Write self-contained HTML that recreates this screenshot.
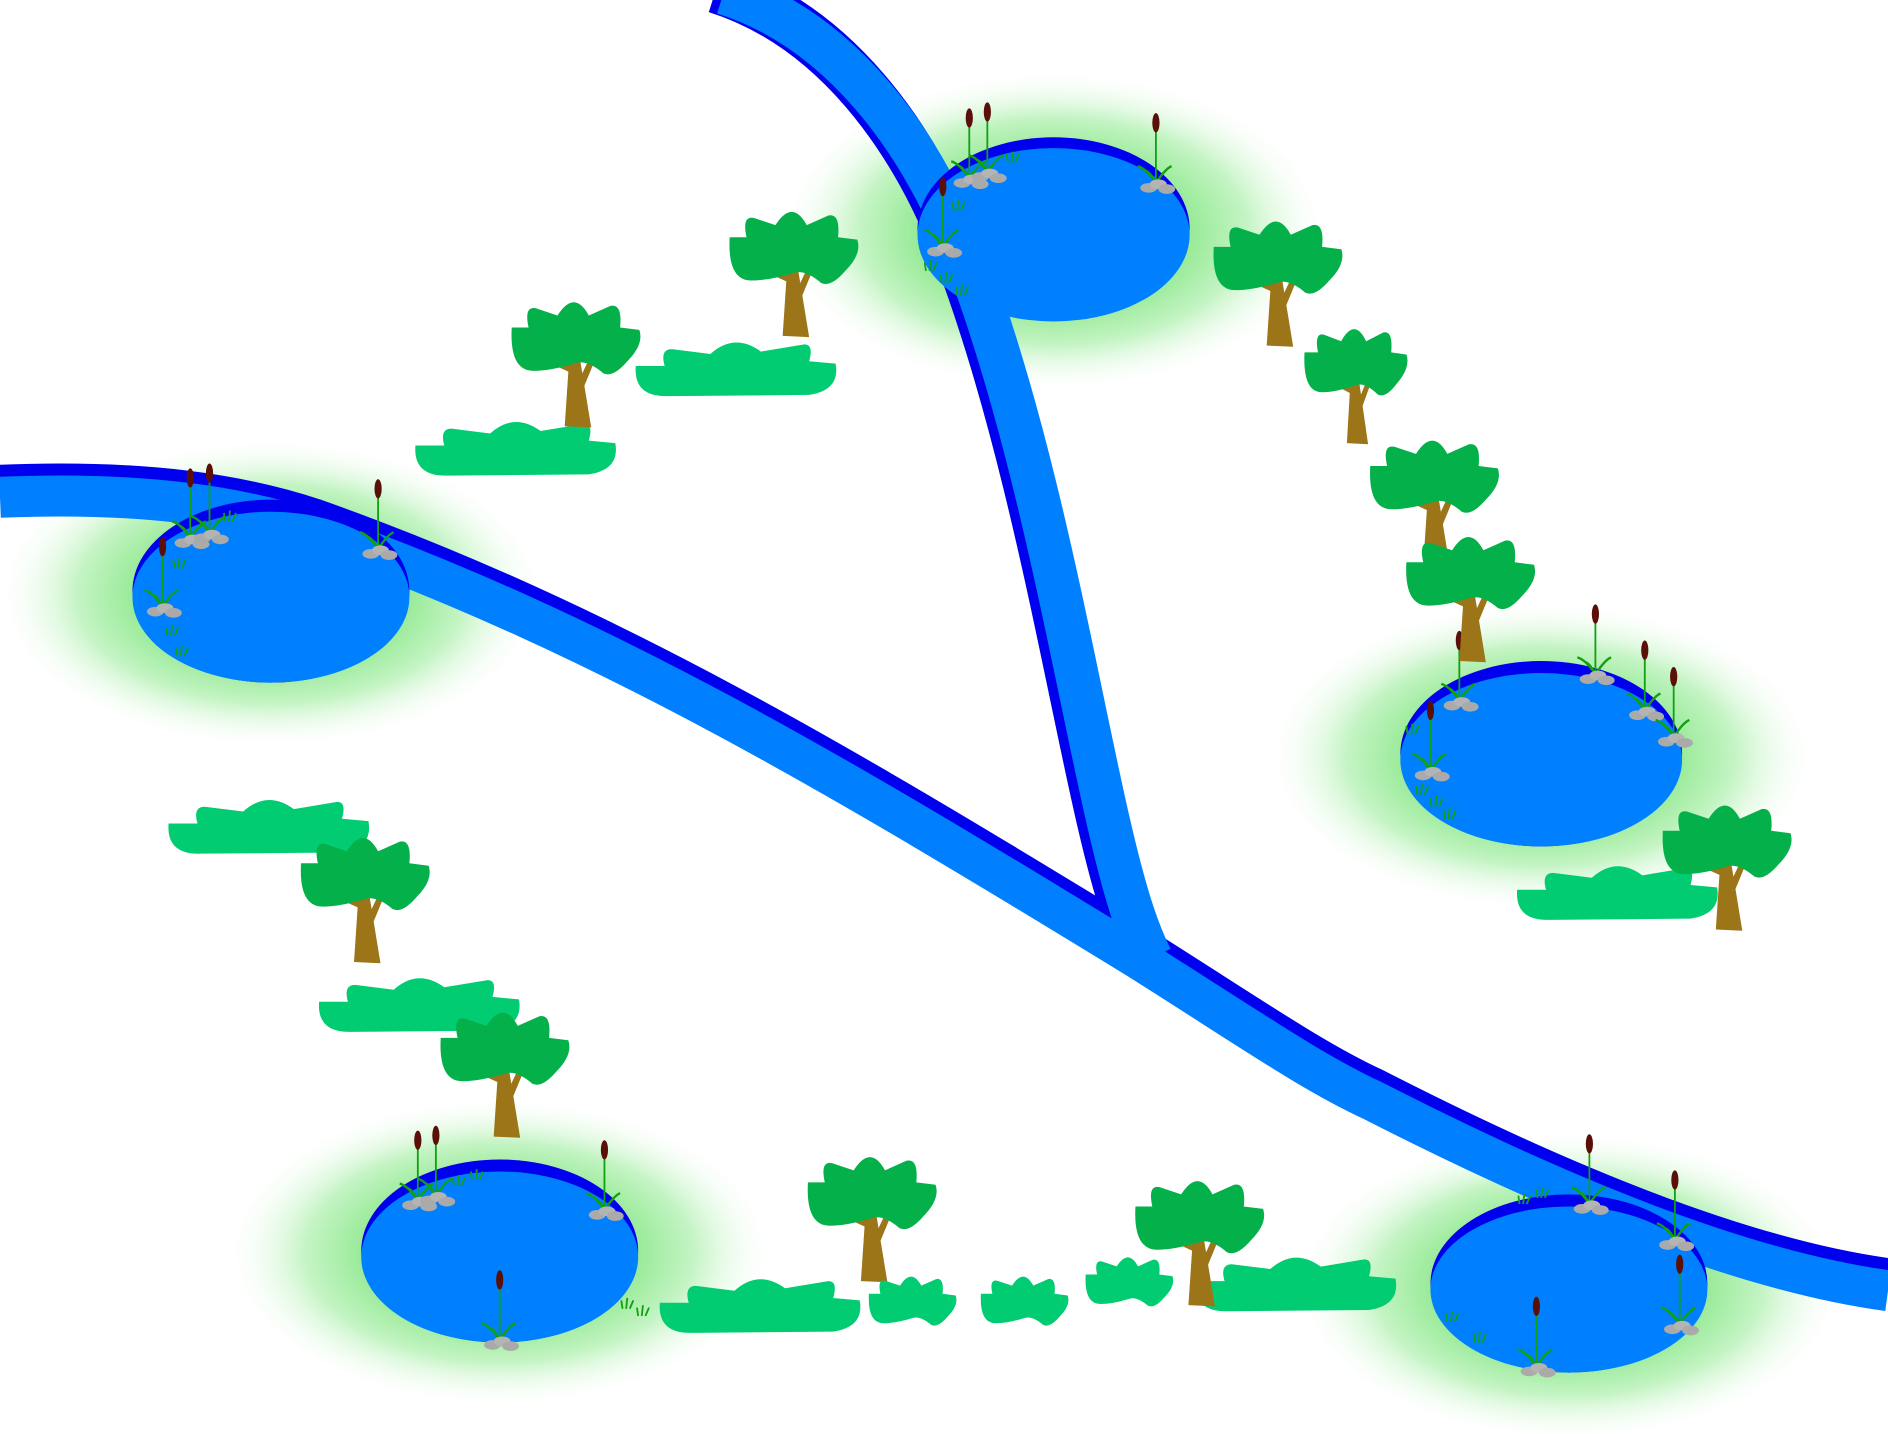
<!DOCTYPE html>
<html><head><meta charset="utf-8"><style>html,body{margin:0;padding:0;background:#fff;overflow:hidden}svg{display:block}</style></head>
<body>
<svg width="1888" height="1434" viewBox="0 0 1568 1191" preserveAspectRatio="none" xmlns="http://www.w3.org/2000/svg">
<defs>
<radialGradient id="g"><stop offset="0.45" stop-color="#8fe88f"/><stop offset="0.7" stop-color="#c4f4c4"/><stop offset="1" stop-color="#fff" stop-opacity="0"/></radialGradient>
<g id="crown"><path d="M-52,-8 L-38,-8 Q-42,-26 -32,-24 L-14,-18 Q0,-40 12,-18 L30,-26 Q40,-28 38,-8 L54,-6 Q58,6 44,20 Q32,34 24,30 Q10,18 0,22 Q-20,28 -34,28 Q-54,28 -52,-8 Z"/></g>
<g id="tree"><polygon points="-4,14 4,14 14,75 -8,74" fill="#9b7518"/><polygon points="2,40 16,10 20,12 6,46" fill="#9b7518"/><polygon points="-2,30 -24,20 -22,16 0,24" fill="#9b7518"/><use href="#crown" fill="#04b04a"/></g>
<g id="bush"><path d="M-82,2 L-58,2 Q-62,-12 -52,-12 L-20,-8 Q0,-26 22,-10 L58,-16 Q66,-16 62,-2 L84,0 Q88,22 62,26 L-55,27 Q-84,28 -82,2 Z" fill="#02cc72"/></g>
<g id="sb"><use href="#crown" fill="#02cc72" transform="scale(0.68)"/></g>
<g id="ct"><line x1="0" y1="0" x2="0" y2="-50" stroke="#10a010" stroke-width="1.5"/><ellipse cx="0" cy="-50" rx="3" ry="8" fill="#5a1008"/><path d="M0,0 Q-8,-12 -15,-14 M0,0 Q8,-12 13,-14 M0,0 Q-4,-8 -8,-10" stroke="#10a010" stroke-width="2" fill="none"/><ellipse cx="-6" cy="4" rx="7" ry="4" fill="#aaa"/><ellipse cx="2" cy="1" rx="7" ry="4" fill="#b4b4b4"/><ellipse cx="9" cy="5" rx="7" ry="4" fill="#aaa"/></g>
<g id="gr"><path d="M-3,0 L-4,-7 M0,0 L1,-9 M3,0 L6,-7" stroke="#10a010" stroke-width="1.5"/></g>
</defs>
<ellipse cx="875" cy="192" rx="230" ry="135" fill="url(#g)"/>
<ellipse cx="225" cy="493" rx="230" ry="130" fill="url(#g)"/>
<ellipse cx="1280" cy="628" rx="230" ry="130" fill="url(#g)"/>
<ellipse cx="415" cy="1040" rx="230" ry="130" fill="url(#g)"/>
<ellipse cx="1303" cy="1068" rx="230" ry="130" fill="url(#g)"/>
<g fill="none">
<path d="M595,-10 C690,20 760,110 800,220 C870,410 900,650 935,755 C940,770 945,782 950,792" stroke="#0000ee" stroke-width="42"/>
<path d="M0,407 C120,402 200,415 260,435 C500,520 700,640 945,790 C1040,850 1090,885 1140,908 C1300,990 1450,1050 1568,1066" stroke="#0000ee" stroke-width="42"/>
<path d="M601,-6 C696,24 766,114 806,224 C876,414 906,654 941,759 C946,774 951,786 956,796" stroke="#0080ff" stroke-width="36"/>
<path d="M0,413 C120,408 200,421 260,441 C500,526 700,646 945,796 C1040,856 1090,891 1140,914 C1300,996 1450,1056 1568,1072" stroke="#0080ff" stroke-width="34"/>
</g>
<g>
<ellipse cx="875" cy="190" rx="113" ry="76" fill="#0000ee"/><ellipse cx="875" cy="195" rx="113" ry="72" fill="#0080ff"/>
<ellipse cx="225" cy="491" rx="115" ry="76" fill="#0000ee"/><ellipse cx="225" cy="496" rx="115" ry="71" fill="#0080ff"/>
<ellipse cx="1280" cy="626" rx="117" ry="77" fill="#0000ee"/><ellipse cx="1280" cy="631" rx="117" ry="72" fill="#0080ff"/>
<ellipse cx="415" cy="1039" rx="115" ry="76" fill="#0000ee"/><ellipse cx="415" cy="1044" rx="115" ry="71" fill="#0080ff"/>
<ellipse cx="1303" cy="1066" rx="115" ry="74" fill="#0000ee"/><ellipse cx="1303" cy="1071" rx="115" ry="69" fill="#0080ff"/>
</g>
<use href="#ct" x="805" y="148"/><use href="#ct" x="820" y="143"/><use href="#ct" x="960" y="152"/><use href="#ct" x="783" y="205"/>
<use href="#ct" x="158" y="447"/><use href="#ct" x="174" y="443"/><use href="#ct" x="314" y="456"/><use href="#ct" x="135" y="504"/>
<use href="#ct" x="1325" y="560"/><use href="#ct" x="1366" y="590"/><use href="#ct" x="1390" y="612"/><use href="#ct" x="1188" y="640"/><use href="#ct" x="1212" y="582"/>
<use href="#ct" x="347" y="997"/><use href="#ct" x="362" y="993"/><use href="#ct" x="502" y="1005"/><use href="#ct" x="415" y="1113"/>
<use href="#ct" x="1320" y="1000"/><use href="#ct" x="1391" y="1030"/><use href="#ct" x="1395" y="1100"/><use href="#ct" x="1276" y="1135"/>
<g><use href="#gr" x="795" y="175"/><use href="#gr" x="772" y="225"/><use href="#gr" x="785" y="235"/><use href="#gr" x="798" y="245"/><use href="#gr" x="840" y="135"/>
<use href="#gr" x="148" y="472"/><use href="#gr" x="142" y="528"/><use href="#gr" x="150" y="545"/><use href="#gr" x="190" y="433"/>
<use href="#gr" x="1180" y="660"/><use href="#gr" x="1192" y="670"/><use href="#gr" x="1203" y="680"/><use href="#gr" x="1172" y="610"/>
<use href="#gr" x="380" y="985"/><use href="#gr" x="395" y="980"/><use href="#gr" x="520" y="1087"/><use href="#gr" x="533" y="1093"/>
<use href="#gr" x="1265" y="1000"/><use href="#gr" x="1280" y="995"/><use href="#gr" x="1205" y="1098"/><use href="#gr" x="1228" y="1115"/></g>
<use href="#bush" x="610" y="302"/><use href="#bush" x="427" y="368"/><use href="#bush" x="222" y="682"/><use href="#bush" x="347" y="830"/>
<use href="#bush" x="630" y="1080"/><use href="#bush" x="1075" y="1062"/><use href="#bush" x="1342" y="737"/>
<use href="#tree" x="658" y="205"/><use href="#tree" x="477" y="280"/><use href="#tree" x="1060" y="213"/>
<use href="#tree" transform="translate(1125,300) scale(0.8,0.92)"/><use href="#tree" x="1190" y="395"/><use href="#tree" x="1220" y="475"/>
<use href="#tree" x="1433" y="698"/><use href="#tree" x="302" y="725"/><use href="#tree" x="418" y="870"/>
<use href="#tree" x="723" y="990"/><use href="#tree" x="995" y="1010"/>
<use href="#sb" x="757" y="1080"/><use href="#sb" x="850" y="1080"/><use href="#sb" x="937" y="1064"/>
</svg>
</body></html>
